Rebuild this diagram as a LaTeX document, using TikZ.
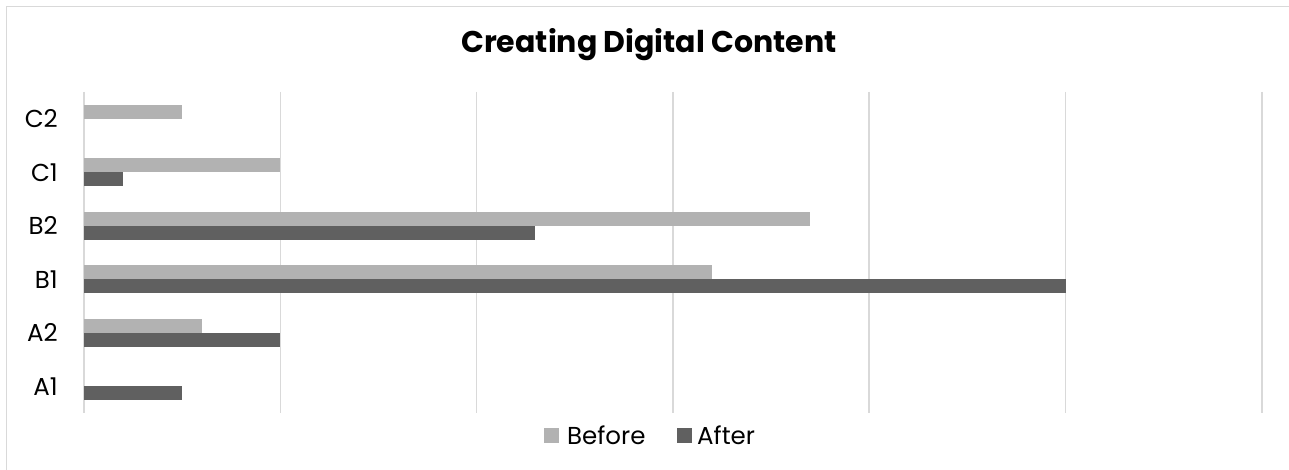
\documentclass[tikz,border=0pt]{standalone}
\usepackage{fontspec}
\setmainfont{Poppins}
\definecolor{gridc}{HTML}{D9D9D9}
\definecolor{beforec}{HTML}{B2B2B2}
\definecolor{afterc}{HTML}{606060}
\begin{document}
\begin{tikzpicture}[x=1pt,y=-1pt,
  gridline/.style={draw=gridc,line width=1.6pt},
  beforebar/.style={fill=beforec},
  afterbar/.style={fill=afterc},
  catlabel/.style={anchor=east,inner sep=0pt,font=\fontsize{24.5}{26}\selectfont},
  legendtext/.style={anchor=base west,inner sep=0pt,font=\fontsize{24.5}{26}\selectfont},
  titletext/.style={anchor=base,inner sep=0pt,font=\bfseries\fontsize{30}{34}\selectfont}]
\useasboundingbox (0,0) rectangle (1289,470);
\fill[white] (0,0) rectangle (1289,470);
% frame
\draw[draw=gridc,line width=1.6pt] (6.5,470) -- (6.5,6.5) -- (1290,6.5);
% gridlines
\foreach \i in {0,...,6}{
  \draw[gridline] ({84+196.3*\i},92) -- ({84+196.3*\i},413);
}
% title
\node[titletext] (title) at (649,53) {Creating Digital Content};
% categories: name, index, before, after
\foreach \lab/\k/\b/\a in {C2/0/0.5/0, C1/1/1/0.2, B2/2/3.7/2.3, B1/3/3.2/5, A2/4/0.6/1, A1/5/0/0.5}{
  \pgfmathsetmacro{\yc}{92+53.5*(\k+0.5)}
  \node[catlabel] (lab\lab) at (58,\yc) {\lab};
  \ifdim\b pt>0pt
    \fill[beforebar] (84,\yc-14) rectangle ({84+196.3*\b},\yc);
  \fi
  \ifdim\a pt>0pt
    \fill[afterbar] (84,\yc) rectangle ({84+196.3*\a},\yc+14);
  \fi
}
% legend
\fill[beforec] (544,428) rectangle (559,443);
\node[legendtext] (legB) at (567,444) {Before};
\fill[afterc] (677,428) rectangle (692,443);
\node[legendtext] (legA) at (697,444) {After};
\end{tikzpicture}
\end{document}
